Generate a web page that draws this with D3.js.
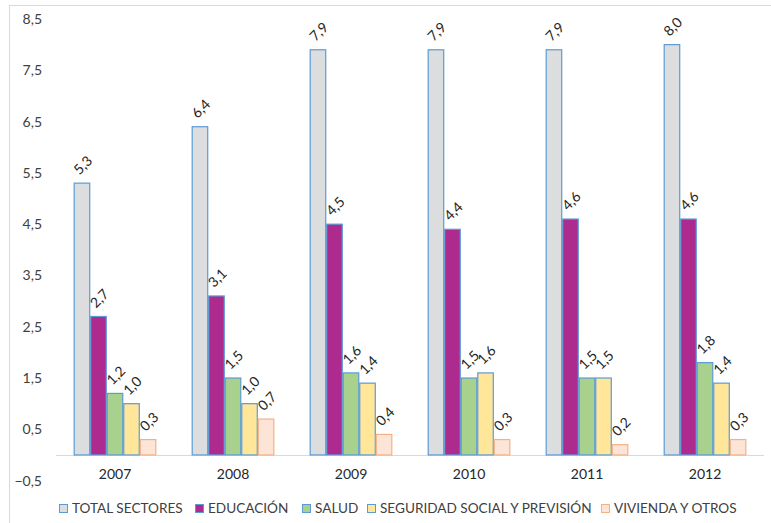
<!DOCTYPE html>
<html>
<head>
<meta charset="utf-8">
<script src="https://cdn.jsdelivr.net/npm/d3@7"></script>
<style>
  html, body { margin: 0; padding: 0; background: #fff; }
  svg text { font-family: Lato, "Open Sans", sans-serif; fill: #262626; }
</style>
</head>
<body>
<svg id="chart" width="771" height="523"></svg>
<script>
// Years on the x axis
const years = ["2007", "2008", "2009", "2010", "2011", "2012"];

// Series (share of spending, %)
const seriesNames = ["TOTAL SECTORES", "EDUCACIÓN", "SALUD", "SEGURIDAD SOCIAL Y PREVISIÓN", "VIVIENDA Y OTROS"];
const totalSectores = [5.3, 6.4, 7.9, 7.9, 7.9, 8.0];
const educacion     = [2.7, 3.1, 4.5, 4.4, 4.6, 4.6];
const salud         = [1.2, 1.5, 1.6, 1.5, 1.5, 1.8];
const seguridad     = [1.0, 1.0, 1.4, 1.6, 1.5, 1.4];
const vivienda      = [0.3, 0.7, 0.4, 0.3, 0.2, 0.3];

// Y axis tick values
const yTicks = [-0.5, 0.5, 1.5, 2.5, 3.5, 4.5, 5.5, 6.5, 7.5, 8.5];

const seriesValues = [totalSectores, educacion, salud, seguridad, vivienda];
const fills   = ["#dcdddf", "#ad2a8e", "#a9d18e", "#ffe699", "#fce4d6"];
const strokes = ["#5b9bd5", "#5b9bd5", "#5b9bd5", "#5b9bd5", "#f4b183"];

const svg = d3.select("#chart");

// outer frame
svg.append("rect")
  .attr("x", 9.5).attr("y", 5.5)
  .attr("width", 800).attr("height", 600)
  .attr("fill", "none").attr("stroke", "#d9d9d9").attr("stroke-width", 1);

const left = 56, right = 764;
const y = d3.scaleLinear().domain([-0.5, 8.5]).range([480.6, 19]);
const x0 = d3.scaleBand().domain(years).range([left, right]).paddingInner(0.3).paddingOuter(0.15);
const x1 = d3.scaleBand().domain(d3.range(seriesNames.length)).range([0, x0.bandwidth()]);

// y axis labels (no line, no ticks)
const yAxis = d3.axisLeft(y).tickValues(yTicks)
  .tickFormat(d => d3.format(".1f")(d).replace(".", ","))
  .tickSize(0).tickPadding(0);
const yg = svg.append("g").attr("transform", "translate(42,0)").call(yAxis);
yg.select(".domain").remove();
yg.selectAll("text").attr("font-size", 14).style("fill", "#404040");

// zero baseline
svg.append("line")
  .attr("x1", left).attr("x2", right)
  .attr("y1", y(0) + 0.5).attr("y2", y(0) + 0.5)
  .attr("stroke", "#d9d9d9").attr("stroke-width", 1);

// x axis labels
const xAxis = d3.axisBottom(x0).tickSize(0).tickPadding(0);
const xg = svg.append("g").attr("transform", `translate(0,${y(0) + 19})`).call(xAxis);
xg.select(".domain").remove();
xg.selectAll("text").attr("font-size", 14).attr("dy", "0.35em").style("fill", "#262626");

// bars
const groups = svg.selectAll("g.year").data(years).join("g")
  .attr("class", "year")
  .attr("transform", d => `translate(${x0(d)},0)`);

seriesValues.forEach((vals, s) => {
  groups.append("rect")
    .attr("x", x1(s) + 0.5)
    .attr("width", x1.bandwidth() - 1)
    .attr("y", (d, i) => y(vals[i]))
    .attr("height", (d, i) => y(0) - y(vals[i]))
    .attr("fill", fills[s])
    .attr("stroke", strokes[s])
    .attr("stroke-width", 1.2);

  groups.append("text")
    .attr("transform", (d, i) => `translate(${x1(s) + x1.bandwidth() / 2 + 1},${y(vals[i]) - 18}) rotate(-45)`)
    .attr("text-anchor", "middle")
    .attr("dy", "0.35em")
    .attr("font-size", 14)
    .text((d, i) => d3.format(".1f")(vals[i]).replace(".", ","));
});

// legend
const legendX = [59, 195, 302, 367, 601];
const legend = svg.selectAll("g.legend").data(seriesNames).join("g")
  .attr("class", "legend")
  .attr("transform", (d, i) => `translate(${legendX[i]},504)`);
legend.append("rect")
  .attr("x", 0.5).attr("y", 0.5).attr("width", 8).attr("height", 8)
  .attr("fill", (d, i) => fills[i]).attr("stroke", (d, i) => strokes[i]);
legend.append("text")
  .attr("x", 13).attr("y", 4.5).attr("dy", "0.36em")
  .attr("font-size", 13.6)
  .style("fill", "#404040")
  .text(d => d);
</script>
</body>
</html>
